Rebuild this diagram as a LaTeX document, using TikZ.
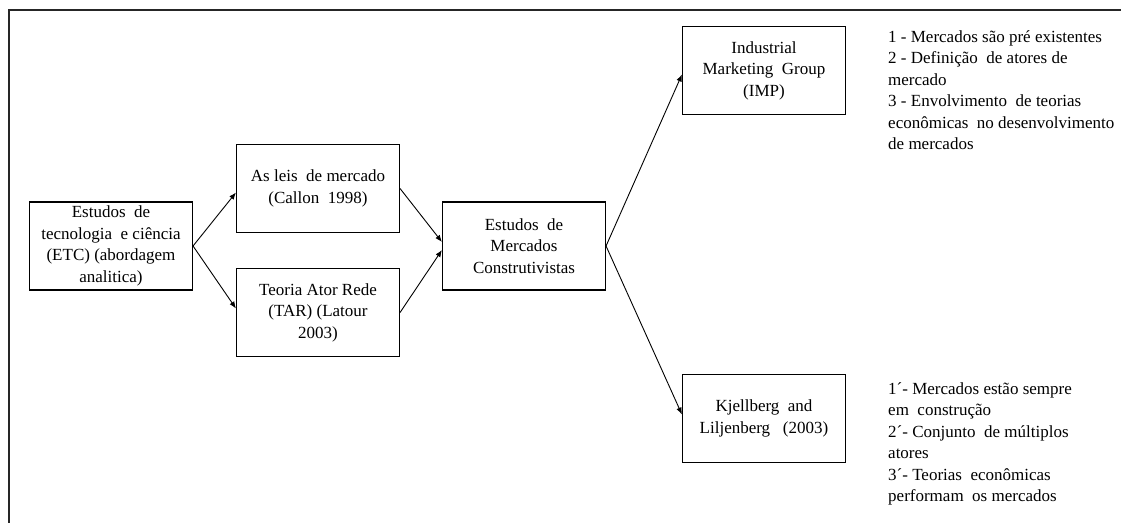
\documentclass[tikz,border=0pt]{standalone}
\usepackage{fontspec}
\setmainfont{Liberation Serif}
\usetikzlibrary{arrows.meta}
\begin{document}
\begin{tikzpicture}[x=1pt,y=-1pt,
  box/.style={draw, line width=1.1pt, minimum width=163pt, minimum height=88pt,
    align=center, inner sep=0pt, font=\fontsize{17}{21.5}\selectfont},
  note/.style={anchor=north west, align=left, inner sep=0pt,
    font=\fontsize{17}{21.5}\selectfont},
  arr/.style={line width=0.9pt, -{Latex[length=7pt,width=5.5pt]}},
  frame/.style={line width=2pt, draw=black!85}]
\useasboundingbox (0,0) rectangle (1121,522);
\draw[frame] (9,530) -- (9,10) -- (1130,10);

\node[box] (etc) at (111,246) {Estudos\ \ de\\tecnologia\ \ e ciência\\(ETC)\ (abordagem\\analitica)};
\node[box] (leis) at (318,188.5) {As leis\ \ de mercado\\(Callon\ \ 1998)};
\node[box] (tar) at (318,312.5) {Teoria Ator Rede\\(TAR)\ (Latour\\2003)};
\node[box] (em) at (524,246) {Estudos\ \ de\\Mercados\\Construtivistas};
\node[box] (imp) at (764,70.5) {Industrial\\Marketing\ \ Group\\(IMP)};
\node[box] (kl) at (764,418.5) {Kjellberg\ \ and\\Liljenberg\ \ \ (2003)};

\node[note] (n1) at (888,30) {1 - Mercados são pré existentes\\2 - Definição\ \ de atores de\\mercado\\3 - Envolvimento\ \ de teorias\\econômicas\ \ no desenvolvimento\\de mercados};
\node[note] (n2) at (888,382) {1´- Mercados estão sempre\\em\ \ construção\\2´- Conjunto\ \ de múltiplos\\atores\\3´- Teorias\ \ econômicas\\performam\ \ os mercados};

\draw[arr] (etc.east) -- ([yshift=-4pt]leis.west);
\draw[arr] (etc.east) -- ([yshift=4pt]tar.west);
\draw[arr] (leis.east) -- ([yshift=4pt]em.west);
\draw[arr] (tar.east) -- ([yshift=-4pt]em.west);
\draw[arr] (em.east) -- ([yshift=-4pt]imp.west);
\draw[arr] (em.east) -- ([yshift=4pt]kl.west);
\end{tikzpicture}
\end{document}
